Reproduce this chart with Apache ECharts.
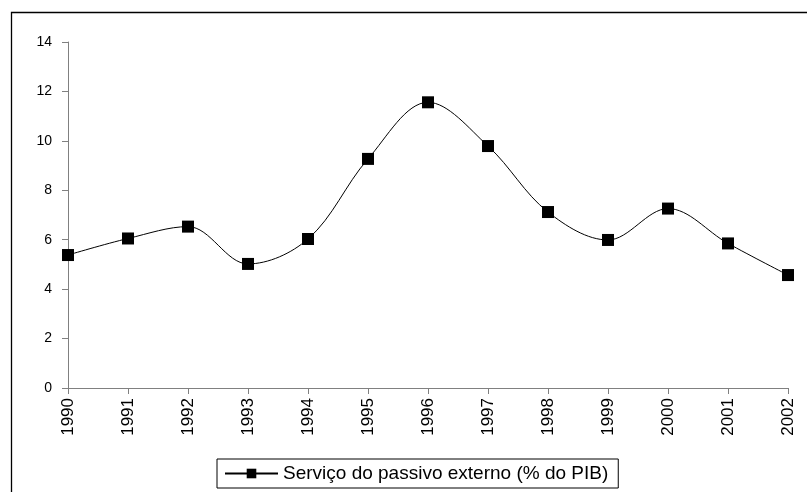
<!DOCTYPE html>
<html>
<head>
<meta charset="utf-8">
<script src="https://cdn.jsdelivr.net/npm/echarts@6/dist/echarts.min.js"></script>
<style>
html,body{margin:0;padding:0;background:#fff;}
#c{width:807px;height:492px;}
</style>
</head>
<body>
<div id="c"></div>
<script>
const categories = ['1990','1991','1992','1993','1994','1995','1996','1997','1998','1999','2000','2001','2002'];
const values = [5.38, 6.05, 6.53, 5.02, 6.03, 9.27, 11.56, 9.79, 7.12, 5.99, 7.26, 5.85, 4.57];
const seriesName = 'Serviço do passivo externo (% do PIB)';
const yTicks = {min: 0, max: 14, interval: 2};

const chart = echarts.init(document.getElementById('c'));
const font = 'Liberation Sans, Arial, sans-serif';
chart.setOption({
  animation: false,
  backgroundColor: '#fff',
  graphic: [{
    type: 'rect',
    shape: {x: 11.5, y: 12.5, width: 900, height: 600},
    style: {fill: 'none', stroke: '#000', lineWidth: 1.3},
    silent: true
  }],
  grid: {left: 68, right: 19, top: 42, bottom: 104},
  legend: {
    data: [seriesName],
    top: 459,
    left: 217,
    borderColor: '#000',
    borderWidth: 1,
    padding: [5, 10, 5, 7],
    itemWidth: 53,
    itemHeight: 12,
    itemGap: 2,
    textStyle: {fontFamily: font, fontSize: 19, color: '#000'}
  },
  xAxis: {
    type: 'category',
    data: categories,
    boundaryGap: false,
    axisLine: {lineStyle: {color: '#808080', width: 1}},
    axisTick: {show: true, length: 6, lineStyle: {color: '#808080'}},
    axisLabel: {rotate: 90, fontFamily: font, fontSize: 17, color: '#000', margin: 10}
  },
  yAxis: {
    type: 'value',
    min: yTicks.min, max: yTicks.max, interval: yTicks.interval,
    axisLine: {show: true, lineStyle: {color: '#808080', width: 1}},
    axisTick: {show: true, length: 6, lineStyle: {color: '#808080'}},
    splitLine: {show: false},
    axisLabel: {fontFamily: font, fontSize: 14, color: '#000', margin: 16}
  },
  series: [{
    name: seriesName,
    type: 'line',
    data: values,
    smooth: 0.35,
    symbol: 'rect',
    symbolSize: 12,
    lineStyle: {color: '#000', width: 1},
    itemStyle: {color: '#000'}
  }]
});
</script>
</body>
</html>
